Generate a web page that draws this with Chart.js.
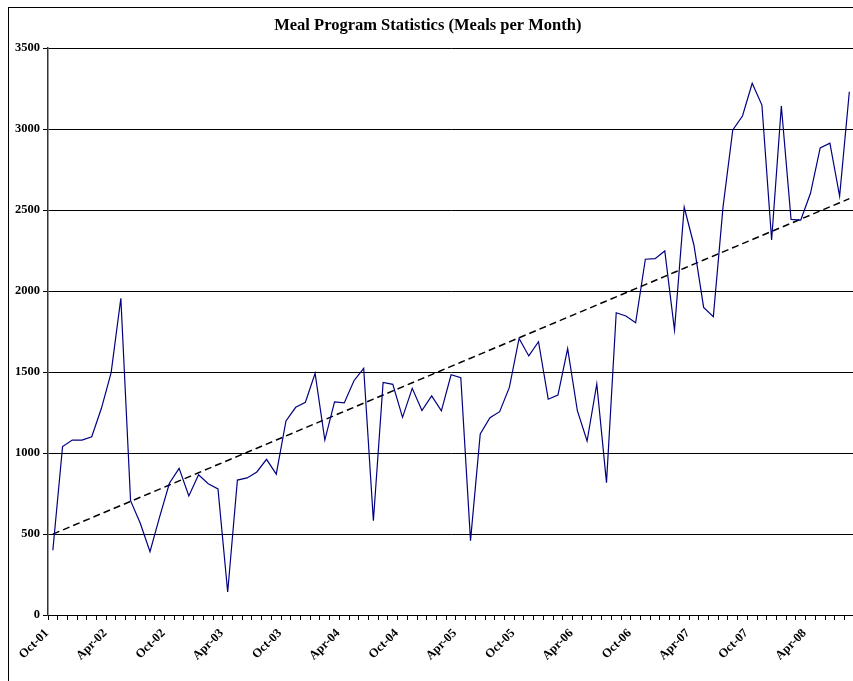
<!DOCTYPE html>
<html>
<head>
<meta charset="utf-8">
<script src="https://cdn.jsdelivr.net/npm/chart.js@4.4.1/dist/chart.umd.min.js"></script>
<style>
  html, body { margin: 0; padding: 0; background: #fff; }
  #wrap { width: 853px; height: 681px; overflow: hidden; position: relative; }
  canvas { display: block; }
</style>
</head>
<body>
<div id="wrap"><canvas id="mealChart" width="866" height="681"></canvas></div>
<script>
// Months, Oct-01 .. Aug-08
const months = [
  "Oct-01", "Nov-01", "Dec-01",
  "Jan-02", "Feb-02", "Mar-02", "Apr-02", "May-02", "Jun-02", "Jul-02", "Aug-02", "Sep-02", "Oct-02", "Nov-02", "Dec-02",
  "Jan-03", "Feb-03", "Mar-03", "Apr-03", "May-03", "Jun-03", "Jul-03", "Aug-03", "Sep-03", "Oct-03", "Nov-03", "Dec-03",
  "Jan-04", "Feb-04", "Mar-04", "Apr-04", "May-04", "Jun-04", "Jul-04", "Aug-04", "Sep-04", "Oct-04", "Nov-04", "Dec-04",
  "Jan-05", "Feb-05", "Mar-05", "Apr-05", "May-05", "Jun-05", "Jul-05", "Aug-05", "Sep-05", "Oct-05", "Nov-05", "Dec-05",
  "Jan-06", "Feb-06", "Mar-06", "Apr-06", "May-06", "Jun-06", "Jul-06", "Aug-06", "Sep-06", "Oct-06", "Nov-06", "Dec-06",
  "Jan-07", "Feb-07", "Mar-07", "Apr-07", "May-07", "Jun-07", "Jul-07", "Aug-07", "Sep-07", "Oct-07", "Nov-07", "Dec-07",
  "Jan-08", "Feb-08", "Mar-08", "Apr-08", "May-08", "Jun-08", "Jul-08", "Aug-08"
];

const meals = [
  400, 1040, 1080, 1080, 1100, 1276, 1496, 1955, 706, 566,
  391, 607, 813, 905, 735, 866, 810, 778, 142, 833,
  846, 883, 961, 870, 1198, 1282, 1313, 1492, 1080, 1315,
  1309, 1446, 1523, 582, 1436, 1424, 1220, 1399, 1262, 1353,
  1260, 1483, 1465, 459, 1117, 1218, 1255, 1405, 1707, 1599,
  1687, 1332, 1358, 1644, 1261, 1074, 1426, 817, 1866, 1846,
  1804, 2196, 2200, 2247, 1759, 2517, 2284, 1899, 1842, 2521,
  2994, 3080, 3282, 3148, 2315, 3142, 2442, 2438, 2603, 2883,
  2912, 2586, 3230
];

const yTicks = [0, 500, 1000, 1500, 2000, 2500, 3000, 3500];

// linear trend (least squares) from the series
function trendOf(vals) {
  const n = vals.length;
  let sx = 0, sy = 0, sxy = 0, sxx = 0;
  vals.forEach((v, i) => { sx += i; sy += v; sxy += i * v; sxx += i * i; });
  const b = (n * sxy - sx * sy) / (n * sxx - sx * sx);
  const a = (sy - b * sx) / n;
  return vals.map((v, i) => a + b * i);
}
const trend = trendOf(meals);

const serif = "'Liberation Serif', 'Times New Roman', serif";

// outer frame of the chart (cropped at right/bottom)
const framePlugin = {
  id: "frame",
  beforeDraw(chart) {
    const c = chart.ctx;
    c.save();
    c.strokeStyle = "#000";
    c.lineWidth = 1;
    c.strokeRect(8.5, 7.5, 1000, 1000);
    c.restore();
  }
};

new Chart(document.getElementById("mealChart"), {
  type: "line",
  data: {
    labels: months,
    datasets: [
      {
        label: "Meals",
        data: meals,
        borderColor: "#000080",
        borderWidth: 1.2,
        pointRadius: 0,
        tension: 0,
        fill: false
      },
      {
        label: "Trend",
        data: trend,
        borderColor: "#000",
        borderWidth: 1.5,
        borderDash: [7, 4],
        pointRadius: 0,
        tension: 0,
        fill: false
      }
    ]
  },
  options: {
    responsive: false,
    animation: false,
    layout: { padding: { left: 0, right: 10.4, top: 0, bottom: 0 } },
    plugins: {
      legend: { display: false },
      tooltip: { enabled: false },
      title: {
        display: true,
        text: "Meal Program Statistics (Meals per Month)",
        color: "#000",
        font: { family: serif, size: 16.5, weight: "bold" },
        padding: { top: 16, bottom: 12.2 }
      }
    },
    scales: {
      x: {
        type: "category",
        offset: true,
        grid: {
          offset: true,
          drawOnChartArea: false,
          drawTicks: true,
          tickLength: 5,
          color: "#000"
        },
        border: { display: true, color: "#000", width: 1 },
        ticks: {
          autoSkip: false,
          maxRotation: 45,
          minRotation: 45,
          padding: 6,
          labelOffset: -6,
          color: "#000",
          font: { family: serif, size: 12.5, weight: "bold" },
          callback: function (val, i) { return i % 6 === 0 ? months[i] : ""; }
        },
        afterFit(scale) { scale.height = 66; }
      },
      y: {
        min: 0,
        max: 3500,
        afterBuildTicks(scale) { scale.ticks = yTicks.map(v => ({ value: v })); },
        grid: {
          color: "#000",
          lineWidth: 1,
          drawTicks: true,
          tickLength: 5
        },
        border: { display: true, color: "#333", width: 1.5 },
        ticks: {
          padding: 3,
          color: "#000",
          font: { family: serif, size: 12.5, weight: "bold" },
          callback: v => String(v)
        },
        afterFit(scale) { scale.width = 48; }
      }
    }
  },
  plugins: [framePlugin]
});
</script>
</body>
</html>
